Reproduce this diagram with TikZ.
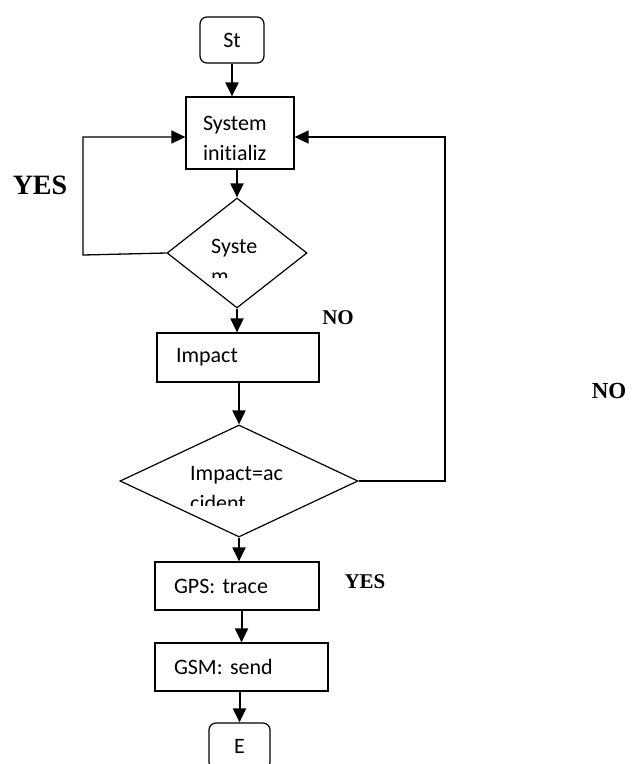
\documentclass[tikz,border=0pt]{standalone}
\usepackage{fontspec}
\setmainfont{Carlito}[Ligatures=NoCommon]
\newfontfamily\lblfont{Liberation Serif}
\usetikzlibrary{shapes.geometric, arrows.meta}
\tikzstyle{terminal} = [rectangle, rounded corners=7pt, minimum width=64pt, minimum height=46pt, draw=black, line width=1.2pt, font=\fontsize{22}{30}\selectfont]
\tikzstyle{process} = [rectangle, draw=black, line width=1.2pt, align=left, inner xsep=19pt, font=\fontsize{22}{30}\selectfont\frenchspacing]
\tikzstyle{decision} = [diamond, draw=black, line width=1.2pt, inner sep=0pt]
\tikzstyle{inside} = [anchor=base west, inner sep=0pt, align=left, font=\fontsize{22}{30}\selectfont]
\tikzstyle{answer} = [font=\lblfont\bfseries\fontsize{21}{25}\selectfont]
\tikzstyle{arrow} = [line width=2pt, -{Triangle[width=13pt,length=14pt]}]
\tikzstyle{loop} = [line width=1.3pt, -{Triangle[width=13pt,length=14pt]}]

\begin{document}
\begin{tikzpicture}[x=1pt, y=-1pt]
  \useasboundingbox (0,0) rectangle (640,764);
  \node (start) [terminal] at (232,40) {St};
  \node (init) [process, minimum height=72pt, text width=74pt, inner xsep=17pt] at (240,133) {\rule{0pt}{26pt}System\\
    \mbox{initializ}};
  \node (check) [decision, minimum width=140pt, minimum height=110pt] at (237,253) {};
  \node (impact) [process, minimum height=49pt, text width=124pt] at (238,357.5) {Impact};
  \node (accident) [decision, minimum width=238pt, minimum height=112pt] at (239,481) {};
  \node (gps) [process, minimum height=48pt, text width=126pt] at (237,586) {GPS: trace};
  \node (gsm) [process, minimum height=48pt, text width=135pt] at (241.5,667) {GSM: send};
  \node (end) [terminal, minimum width=61pt] at (239.5,746) {E};
  % texts cut off by the diamonds' text boxes
  \begin{scope}
    \clip (160,200) rectangle (320,277);
    \node (checktxt) [inside] at (211,283) {Syste\\m};
  \end{scope}
  \begin{scope}
    \clip (125,430) rectangle (355,505);
    \node (accidenttxt) [inside] at (190,510) {Impact=ac\\cident};
  \end{scope}
  \coordinate (loopL) at (83,255);
  \coordinate (loopR) at (445,481);
  \draw[arrow](start) -- (start |- init.north);
  \draw[arrow](init.south -| check.north) -- (check.north);
  \draw[arrow](check.south) -- (check.south |- impact.north);
  \draw[arrow](impact.south -| accident.north) -- (accident.north);
  \draw[arrow](accident.south) -- (accident.south |- gps.north);
  \draw[arrow](gsm.north |- gps.south) -- (gsm.north);
  \draw[arrow](gsm.south -| end.north) -- (end.north);
  \draw[loop](check.west) -- (loopL) |- ([yshift=-4pt]init.west);
  \draw[loop](accident.east) -- (loopR) |- ([yshift=-4pt]init.east);
  \node (yesL) [answer, font=\lblfont\bfseries\fontsize{28}{32}\selectfont] at (40,185) {YES};
  \node (noA) [answer] at (338,318) {NO};
  \node (noB) [answer, font=\lblfont\bfseries\fontsize{23}{27}\selectfont] at (609,391) {NO};
  \node (yesB) [answer] at (365,582) {YES};
\end{tikzpicture}
\end{document}
